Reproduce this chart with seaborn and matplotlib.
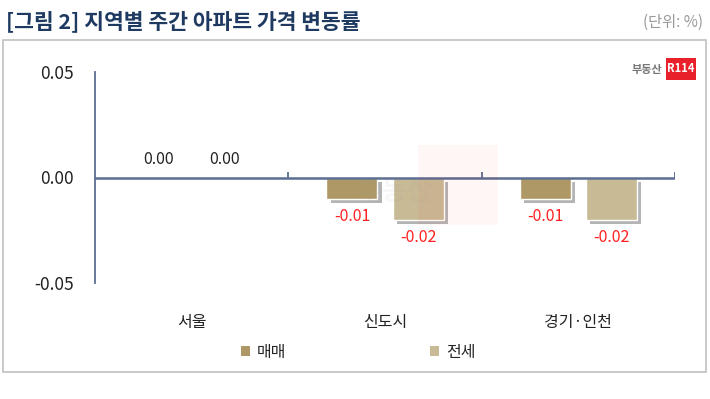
import matplotlib
matplotlib.use("Agg")
import matplotlib.pyplot as plt
import matplotlib.patheffects as pe
from matplotlib.patches import Rectangle, Patch
import seaborn as sns
import pandas as pd

regions = ["서울", "신도시", "경기·인천"]
series = ["매매", "전세"]
sale = [0.00, -0.01, -0.01]
jeonse = [0.00, -0.02, -0.02]
yticks = [-0.05, 0.00, 0.05]
title = "[그림 2] 지역별 주간 아파트 가격 변동률"
unit = "(단위: %)"

df = pd.DataFrame({
    "region": regions * 2,
    "type": [series[0]] * 3 + [series[1]] * 3,
    "value": sale + jeonse,
})

sns.set_theme(style="white")
plt.rcParams["font.family"] = ["Noto Sans CJK KR", "DejaVu Sans"]

W, H = 710, 399
fig = plt.figure(figsize=(W / 100, H / 100), dpi=100)
ax = fig.add_axes([95 / W, 1 - 283 / H, 580 / W, (283 - 72) / H])

colors = ["#ae9866", "#c9ba96"]
sns.barplot(data=df, x="region", y="value", hue="type", order=regions,
            hue_order=series, palette=colors, width=0.684, gap=0.228,
            saturation=1, ax=ax, legend=False)

for p in ax.patches:
    p.set_path_effects([pe.SimplePatchShadow(offset=(3, -3), shadow_rgbFace="#444444", alpha=0.4),
                        pe.Normal()])

navy = "#5b6d91"
ax.set_xlim(-0.5, len(regions) - 0.5)
ax.set_ylim(yticks[0], yticks[-1])
ax.set_yticks(yticks)
ax.set_yticklabels([f"{v:.2f}" for v in yticks], fontsize=12.5, color="#222222")
ax.tick_params(axis="y", direction="in", length=5, width=1.2, color=navy, pad=15)
ax.tick_params(axis="x", length=0, pad=22, labelsize=11.5, labelcolor="#222222")
ax.set_xlabel("")
ax.set_ylabel("")
for s in ["top", "right", "bottom"]:
    ax.spines[s].set_visible(False)
ax.spines["left"].set_color(navy)
ax.spines["left"].set_linewidth(1.3)
ax.axhline(0, color=navy, lw=1.8, zorder=1)
ax.vlines([i + 0.5 for i in range(len(regions))], 0, 0.0028, color=navy, lw=1.3)

# value labels
for cont in ax.containers:
    for bar in cont:
        v = bar.get_height()
        xc = bar.get_x() + bar.get_width() / 2
        if v < 0:
            ax.annotate(f"{v:.2f}", (xc, v), xytext=(0, -7), textcoords="offset points",
                        ha="center", va="top", color="#ff2020", fontsize=11.5)
        else:
            ax.annotate(f"{v:.2f}", (xc, v), xytext=(0, 7), textcoords="offset points",
                        ha="center", va="bottom", color="#222222", fontsize=11.5)

# watermark
fig.patches.append(Rectangle((418 / W, 1 - 225 / H), 80 / W, 80 / H, transform=fig.transFigure,
                             color="#ff0000", alpha=0.035, lw=0, zorder=0))
fig.text(395 / W, 1 - 192 / H, "부동산", fontsize=20, color="#999999", alpha=0.07,
         ha="center", va="center", fontweight="bold")

# logo
fig.patches.append(Rectangle((666 / W, 1 - 80 / H), 30 / W, 22 / H, transform=fig.transFigure,
                             color="#e8202a", lw=0, zorder=3))
fig.text(681 / W, 1 - 69 / H, "R114", fontsize=8, color="white", fontweight="bold",
         ha="center", va="center", zorder=4)
fig.text(662 / W, 1 - 69 / H, "부동산", fontsize=8, color="#777777", fontweight="bold",
         ha="right", va="center")

# title and unit
fig.text(6 / W, 1 - 21 / H, title, fontsize=15.5, fontweight="bold", color="#1f3a60",
         ha="left", va="center")
fig.text(703 / W, 1 - 22 / H, unit, fontsize=11, color="#999999", ha="right", va="center")

# frame
fig.patches.append(Rectangle((3 / W, 1 - 372 / H), 703 / W, 332 / H, transform=fig.transFigure,
                             fill=False, edgecolor="#c0c0c0", lw=1.2))

# legend
handles = [Patch(facecolor=c, edgecolor="none") for c in colors]
fig.legend(handles, series, loc="center", bbox_to_anchor=(358 / W, 1 - 352 / H), ncol=2,
           frameon=False, fontsize=11.5, handlelength=0.6, handleheight=0.6,
           handletextpad=0.4, columnspacing=9)

fig.savefig("out.png", dpi=100)
